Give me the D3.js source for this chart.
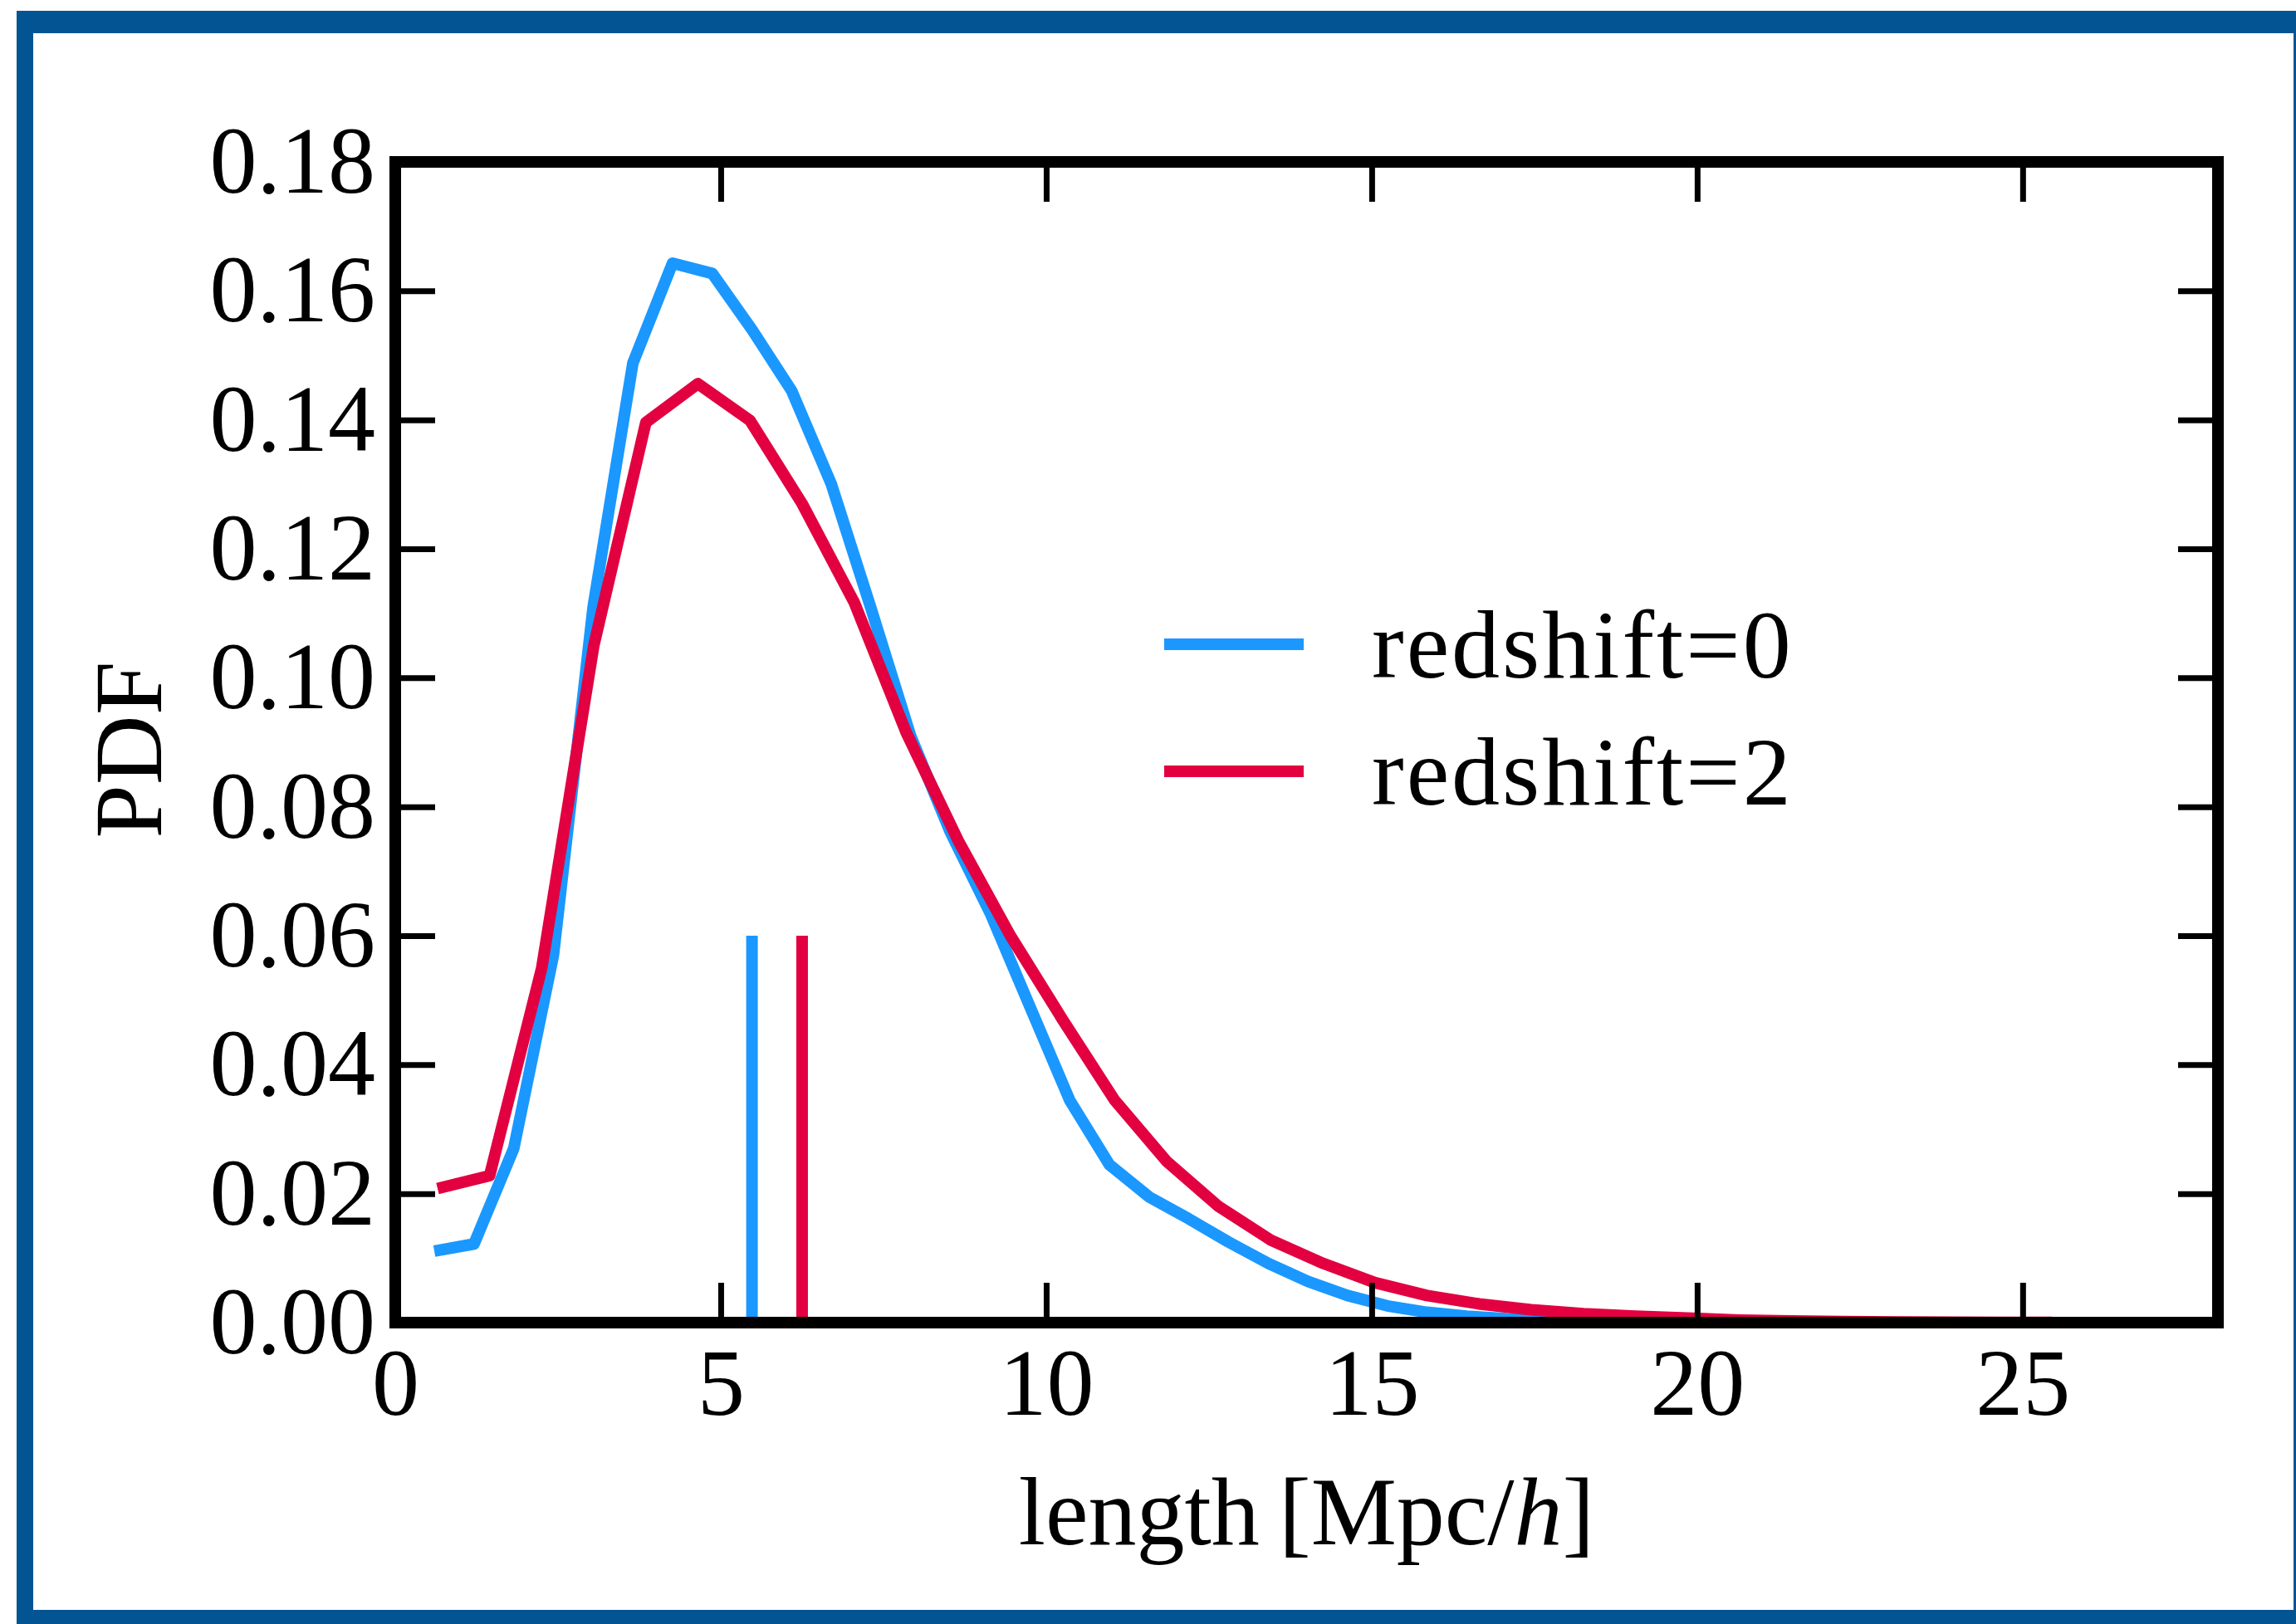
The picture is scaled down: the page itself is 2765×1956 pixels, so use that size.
<!DOCTYPE html>
<html>
<head>
<meta charset="utf-8">
<script src="https://cdn.jsdelivr.net/npm/d3@7"></script>
<style>
  body { margin: 0; background: #fff; }
  svg text { font-family: "Liberation Serif", "DejaVu Serif", serif; fill: #000; }
</style>
</head>
<body>
<div id="chart"></div>
<script>
// Values: bin centres [Mpc/h] and PDF for each redshift
const lengthZ0 = [0.60, 1.21, 1.82, 2.43, 3.04, 3.65, 4.26, 4.87, 5.48, 6.09, 6.70, 7.31, 7.92, 8.53,
                  9.14, 9.75, 10.36, 10.97, 11.58, 12.19, 12.80, 13.41, 14.02, 14.63, 15.24, 15.85,
                  16.46, 17.07, 17.68, 18.29, 18.90, 19.51, 20.12, 20.73, 21.34];
const pdfZ0 = [0.0111, 0.0122, 0.0270, 0.0570, 0.1110, 0.1488, 0.1643, 0.1627, 0.1540, 0.1445, 0.1300,
               0.1107, 0.0909, 0.0760, 0.0635, 0.0490, 0.0345, 0.0245, 0.0195, 0.0161, 0.0125, 0.0092,
               0.0064, 0.0042, 0.0026, 0.0016, 0.0010, 0.0006, 0.0004, 0.00025, 0.00015, 0.0001,
               0.00007, 0.00004, 0.00002];

const lengthZ2 = [0.65, 1.45, 2.25, 3.05, 3.85, 4.65, 5.45, 6.25, 7.05, 7.85, 8.65, 9.45, 10.25, 11.05,
                  11.85, 12.65, 13.45, 14.25, 15.05, 15.85, 16.65, 17.45, 18.25, 19.05, 19.85, 20.65,
                  21.45, 22.25, 23.05, 23.85, 24.65, 25.45];
const pdfZ2 = [0.0208, 0.0228, 0.0550, 0.1050, 0.1396, 0.1456, 0.1399, 0.1270, 0.1117, 0.0915, 0.0747,
               0.0600, 0.0470, 0.0345, 0.0250, 0.0180, 0.0128, 0.0092, 0.0062, 0.0042, 0.0029, 0.0020,
               0.0014, 0.0010, 0.0007, 0.0004, 0.00025, 0.00015, 0.0001, 0.00006, 0.00004, 0.00002];

// mean lengths, drawn as short vertical bars
const meanLength = [5.48, 6.25];
const meanBarTop = 0.06;

const seriesNames = ["redshift=0", "redshift=2"];
const xTicks = [0, 5, 10, 15, 20, 25];
const yTicks = [0, 0.02, 0.04, 0.06, 0.08, 0.10, 0.12, 0.14, 0.16, 0.18];
const xDomain = [0, 28];
const yDomain = [0, 0.18];

const colors = ["#1a98ff", "#e20040"];

// Define the dimensions and margins for the SVG
const W = 2765, H = 1956;
const margin = { top: 195, right: 94, bottom: 363, left: 476 };
const width = W - margin.left - margin.right;
const height = H - margin.top - margin.bottom;

const root = d3.select("#chart").append("svg")
    .attr("width", W)
    .attr("height", H);

root.append("rect").attr("width", W).attr("height", H).attr("fill", "#fff");

// blue frame around the figure
const frameColor = "#025493";
root.append("rect").attr("x", 20).attr("y", 13).attr("width", W - 20).attr("height", 27).attr("fill", frameColor);
root.append("rect").attr("x", 20).attr("y", 13).attr("width", 20).attr("height", H - 13).attr("fill", frameColor);
root.append("rect").attr("x", W - 3).attr("y", 13).attr("width", 3).attr("height", H - 13).attr("fill", frameColor);
root.append("rect").attr("x", 20).attr("y", 1939).attr("width", W - 20).attr("height", H - 1939).attr("fill", frameColor);

const svg = root.append("g")
    .attr("transform", "translate(" + margin.left + "," + margin.top + ")");

// scales
const x = d3.scaleLinear().domain(xDomain).range([0, width]);
const y = d3.scaleLinear().domain(yDomain).range([height, 0]);

svg.append("clipPath").attr("id", "plotclip")
  .append("rect").attr("width", width).attr("height", height);

// curves
const line = d3.line()
    .x(d => x(d[0]))
    .y(d => y(d[1]));

const series = [d3.zip(lengthZ0, pdfZ0), d3.zip(lengthZ2, pdfZ2)];

series.forEach((pts, i) => {
    svg.append("path")
        .datum(pts)
        .attr("d", line)
        .attr("clip-path", "url(#plotclip)")
        .style("fill", "none")
        .style("stroke", colors[i])
        .style("stroke-width", 14)
        .style("stroke-linejoin", "round");
});

// mean markers
meanLength.forEach((m, i) => {
    svg.append("line")
        .attr("x1", x(m)).attr("x2", x(m))
        .attr("y1", y(0)).attr("y2", y(meanBarTop))
        .attr("stroke", colors[i])
        .attr("stroke-width", 14);
});

// axes with inward ticks on all four sides
const tickLen = 48;
const fmtY = d3.format(".2f");

const xAxis = svg.append("g")
    .attr("transform", "translate(0," + height + ")")
    .call(d3.axisBottom(x).tickValues(xTicks).tickSize(-tickLen).tickSizeOuter(0).tickPadding(30));

const yAxis = svg.append("g")
    .call(d3.axisLeft(y).tickValues(yTicks).tickFormat(fmtY).tickSize(-tickLen).tickSizeOuter(0).tickPadding(24));

const xTop = svg.append("g")
    .call(d3.axisTop(x).tickValues(xTicks).tickFormat("").tickSize(-tickLen).tickSizeOuter(0));

const yRight = svg.append("g")
    .attr("transform", "translate(" + width + ",0)")
    .call(d3.axisRight(y).tickValues(yTicks).tickFormat("").tickSize(-tickLen).tickSizeOuter(0));

[xAxis, yAxis, xTop, yRight].forEach(g => {
    g.select(".domain").remove();
    g.selectAll(".tick line").attr("stroke", "#000").attr("stroke-width", 7);
    g.selectAll(".tick text")
        .attr("font-family", "Liberation Serif, DejaVu Serif, serif")
        .attr("font-size", 114)
        .attr("fill", "#000");
});

// frame of the axes
svg.append("rect")
    .attr("width", width)
    .attr("height", height)
    .attr("fill", "none")
    .attr("stroke", "#000")
    .attr("stroke-width", 14);

// x-axis label
const xLabel = svg.append("text")
    .attr("x", width / 2)
    .attr("y", 1860 - margin.top)
    .attr("text-anchor", "middle")
    .attr("font-size", 116);
xLabel.append("tspan").text("length\u2009[Mpc/");
xLabel.append("tspan").attr("font-style", "italic").text("h");
xLabel.append("tspan").text("]");

// y-axis label
svg.append("text")
    .attr("transform", "rotate(-90)")
    .attr("x", -(903 - margin.top))
    .attr("y", 194 - margin.left)
    .attr("text-anchor", "middle")
    .attr("font-size", 116)
    .text("PDF");

// legend
const legend = svg.append("g")
    .attr("transform", "translate(" + (1402 - margin.left) + "," + (776 - margin.top) + ")");

seriesNames.forEach((name, i) => {
    legend.append("line")
        .attr("x1", 0).attr("x2", 168)
        .attr("y1", i * 153).attr("y2", i * 153)
        .attr("stroke", colors[i])
        .attr("stroke-width", 14);

    legend.append("text")
        .attr("x", 250)
        .attr("y", i * 153 + 40)
        .attr("font-size", 116)
        .attr("letter-spacing", 3)
        .text(name);
});
</script>
</body>
</html>
